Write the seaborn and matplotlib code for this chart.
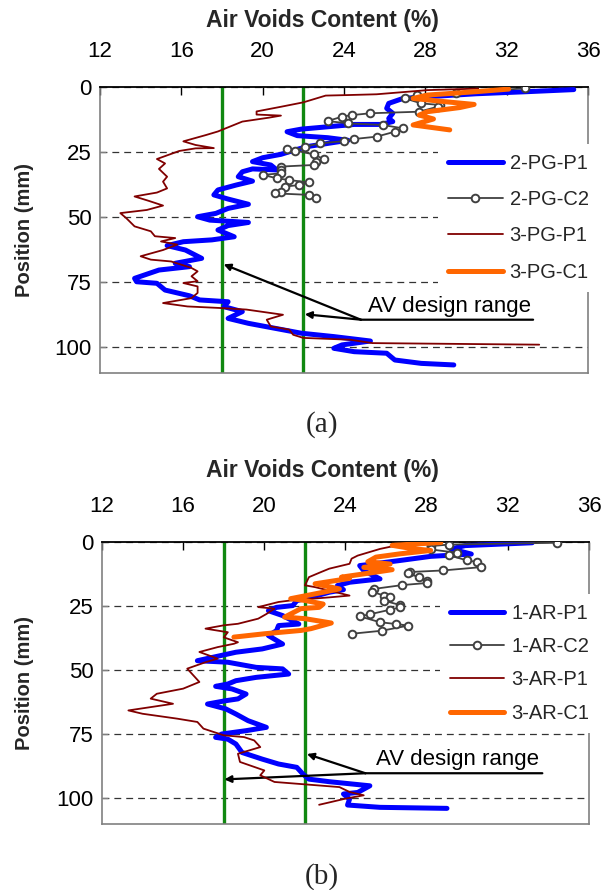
import matplotlib
matplotlib.use("Agg")
import matplotlib.pyplot as plt
import seaborn as sns
import pandas as pd

# ---------------- Panel (a) data ----------------
a_labels = ["2-PG-P1", "2-PG-C2", "3-PG-P1", "3-PG-C1"]

a_2pg_p1_av = [35.3, 33.0, 30.5, 28.2, 26.9, 26.2, 26.1, 26.4, 26.2, 26.4, 25.8, 24.5, 23.2, 21.9, 21.2,
               21.7, 23.2, 24.2, 23.2, 22.2, 21.6, 20.9, 20.0, 19.5, 20.4, 20.7, 19.5, 19.0, 18.8, 19.5,
               18.7, 17.8, 17.6, 18.3, 19.3, 18.3, 17.7, 16.8, 17.4, 19.3, 18.3, 17.8, 18.6, 17.5, 16.1,
               15.3, 16.2, 17.0, 15.7, 16.4, 14.9, 13.7, 13.8, 14.8, 15.2, 16.4, 16.9, 18.3, 18.1, 19.0,
               18.3, 19.3, 20.6, 21.9, 23.5, 25.3, 23.9, 23.5, 24.5, 26.1, 26.5, 27.8, 29.4]
a_2pg_p1_pos = [1.0, 1.8, 2.6, 3.7, 4.4, 6.3, 8.2, 10.1, 12.1, 13.3, 14.4, 14.4, 15.3, 16.2, 17.2,
                18.7, 19.5, 20.5, 21.7, 22.9, 24.2, 25.9, 27.2, 28.7, 30.0, 31.9, 31.5, 32.6, 34.5, 36.2,
                37.7, 39.6, 41.5, 43.1, 45.1, 46.7, 48.6, 49.9, 51.2, 52.1, 53.3, 55.0, 57.6, 58.8, 59.5,
                61.0, 62.7, 65.9, 67.8, 69.1, 70.4, 73.6, 74.9, 75.5, 78.1, 80.3, 81.9, 82.6, 84.5, 86.4,
                89.0, 90.9, 92.8, 94.7, 96.0, 97.7, 99.2, 100.5, 101.8, 102.4, 105.0, 106.3, 106.9]

a_2pg_c2_av = [32.9, 29.5, 27.6, 27.0, 27.8, 28.7, 28.6, 27.7, 25.3, 24.4, 23.9, 23.2, 24.2, 25.9, 26.9,
               26.5, 25.6, 24.5, 24.0, 22.8, 22.1, 21.6, 21.2, 22.5, 23.0, 22.6, 22.5, 20.9, 20.9, 20.9,
               20.0, 20.7, 21.3, 22.3, 21.8, 21.1, 20.9, 20.6, 22.3, 22.6]
a_2pg_c2_pos = [0.5, 2.4, 3.1, 4.4, 6.3, 6.9, 7.6, 9.5, 10.1, 10.8, 11.4, 13.1, 14.0, 14.6, 15.9,
                17.2, 19.1, 20.0, 20.8, 21.7, 22.9, 24.6, 23.8, 25.9, 27.7, 28.7, 30.0, 30.6, 31.9, 33.2,
                33.8, 35.1, 35.8, 36.7, 37.7, 38.3, 40.3, 40.9, 41.5, 42.8]

a_3pg_p1_av = [30.6, 28.1, 25.6, 24.2, 23.1, 22.0, 20.9, 19.7, 19.7, 20.9, 20.3, 19.0, 17.8, 17.2, 16.1,
               16.7, 17.6, 16.7, 15.9, 14.8, 15.2, 14.9, 15.3, 15.1, 15.3, 14.8, 13.7, 14.4, 15.1, 14.3,
               13.0, 13.3, 13.7, 14.5, 14.7, 15.7, 15.0, 15.8, 15.1, 14.0, 14.5, 15.5, 16.5, 16.8, 16.5,
               16.8, 16.1, 16.8, 16.8, 16.5, 15.1, 16.3, 17.9, 19.2, 21.0, 20.2, 20.4, 21.3, 21.5, 22.0,
               24.3, 25.4, 28.1, 33.6]
a_3pg_p1_pos = [0.6, 1.2, 2.8, 3.1, 3.3, 5.9, 7.6, 9.4, 10.6, 11.0, 11.8, 13.3, 17.1, 18.5, 20.9,
                22.3, 23.5, 23.6, 24.6, 27.7, 29.4, 31.5, 34.5, 36.4, 39.0, 40.6, 42.1, 43.8, 45.6, 47.3,
                48.5, 50.5, 53.6, 55.5, 57.4, 58.1, 59.4, 60.6, 62.7, 65.1, 66.4, 67.1, 69.6, 70.9, 72.8,
                74.7, 75.4, 76.7, 79.2, 81.2, 83.1, 84.4, 85.0, 85.6, 87.6, 89.5, 92.1, 93.3, 95.3, 96.5,
                97.2, 98.5, 98.7, 99.1]

a_3pg_c1_av = [32.1, 30.5, 28.1, 27.4, 28.9, 30.4, 29.7, 28.1, 27.7, 28.4, 27.4, 29.2]
a_3pg_c1_pos = [0.8, 1.8, 3.1, 4.4, 5.6, 6.7, 7.9, 9.5, 10.8, 12.3, 14.6, 16.5]

# ---------------- Panel (b) data ----------------
b_labels = ["1-AR-P1", "1-AR-C2", "3-AR-P1", "3-AR-C1"]

b_1ar_p1_av = [33.2, 29.9, 29.2, 30.2, 28.2, 26.6, 24.7, 24.9, 25.7, 24.2, 23.6, 23.9, 23.2, 22.6, 21.6,
               21.4, 20.6, 20.2, 20.9, 21.7, 20.7, 20.6, 20.2, 20.9, 19.9, 18.6, 16.7, 18.2, 19.6, 20.9,
               21.2, 19.6, 18.6, 18.2, 17.6, 18.4, 19.1, 18.7, 18.1, 17.2, 18.1, 18.6, 19.2, 20.1, 19.1,
               17.9, 17.6, 18.2, 18.6, 18.9, 19.9, 20.7, 21.6, 21.9, 22.2, 23.2, 25.2, 24.6, 23.9, 24.2,
               24.1, 25.7, 29.0]
b_1ar_p1_pos = [0.3, 1.4, 2.7, 4.7, 5.6, 7.3, 9.2, 11.2, 14.4, 15.7, 17.0, 18.6, 19.6, 20.9, 22.9,
                24.8, 25.5, 26.8, 28.7, 32.0, 32.6, 34.6, 36.5, 39.8, 41.7, 43.0, 46.3, 46.9, 48.9, 49.5,
                51.5, 52.8, 54.1, 55.4, 56.3, 57.3, 59.3, 61.2, 61.9, 63.2, 65.1, 67.1, 69.7, 72.3, 73.6,
                74.9, 76.2, 76.9, 78.8, 82.1, 84.7, 86.6, 87.9, 90.5, 92.5, 93.5, 95.1, 97.7, 98.3, 100.3,
                102.6, 103.5, 103.9]

b_1ar_c2_av = [34.4, 29.1, 28.2, 28.2, 29.5, 29.1, 30.0, 30.5, 30.7, 28.8, 27.2, 27.1, 27.6, 28.0, 28.0,
               26.8, 25.4, 25.3, 25.9, 26.2, 25.9, 26.7, 26.7, 26.2, 25.2, 24.7, 25.7, 26.5, 27.1, 25.8,
               24.3]
b_1ar_c2_pos = [0.3, 1.0, 1.6, 2.9, 4.2, 5.2, 7.2, 7.8, 9.8, 11.1, 11.7, 12.1, 13.8, 15.3, 16.0,
                16.8, 18.3, 19.4, 20.9, 21.6, 22.9, 24.6, 25.5, 26.4, 28.2, 29.0, 31.3, 32.0, 32.6, 34.6,
                35.8]

b_3ar_p1_av = [26.6, 25.7, 24.6, 24.3, 24.2, 23.2, 22.8, 22.2, 22.0, 22.5, 24.2, 23.2, 21.3, 20.7, 19.7,
               20.5, 20.1, 19.7, 18.7, 18.0, 17.1, 18.2, 18.0, 18.7, 18.5, 17.7, 16.8, 17.7, 17.1, 16.2,
               16.8, 16.0, 14.7, 14.4, 15.5, 13.3, 14.0, 15.7, 16.7, 17.0, 18.0, 19.0, 19.5, 19.8, 18.7,
               18.8, 20.0, 19.8, 20.5, 23.7, 24.2, 24.9, 24.0, 23.3, 22.7]
b_3ar_p1_pos = [1.2, 2.7, 5.3, 6.5, 8.5, 10.4, 11.7, 13.7, 16.9, 17.6, 20.9, 21.6, 22.8, 23.4, 25.4,
                26.0, 28.1, 29.9, 31.9, 32.5, 33.8, 35.2, 37.2, 39.1, 39.7, 41.0, 42.9, 45.5, 46.9, 49.4,
                54.6, 57.2, 59.2, 61.1, 63.1, 65.7, 67.0, 68.9, 70.2, 72.8, 75.4, 76.1, 77.4, 80.0, 82.6,
                85.8, 89.1, 91.0, 93.6, 95.6, 97.5, 98.8, 100.1, 101.4, 102.5]

b_3ar_c1_av = [28.7, 26.3, 27.3, 28.2, 26.7, 25.5, 25.1, 26.2, 24.9, 26.3, 25.2, 23.8, 24.2, 22.5, 23.7,
               22.9, 22.2, 21.3, 22.0, 22.9, 22.7, 21.8, 21.0, 22.0, 23.3, 22.3, 21.8, 20.0, 18.5]
b_3ar_c1_pos = [0.2, 1.3, 2.6, 3.3, 4.6, 5.9, 7.7, 8.6, 9.9, 10.8, 12.1, 13.7, 14.2, 16.3, 18.3,
                19.6, 20.7, 22.1, 22.8, 24.2, 25.5, 26.0, 29.3, 29.9, 31.6, 33.8, 34.5, 35.8, 37.1]

# Design range and axis ticks
design_range = [18, 22]
x_ticks = [12, 16, 20, 24, 28, 32, 36]
y_ticks = [0, 25, 50, 75, 100]
annot_text = "AV design range"

# ---------------- styling ----------------
sns.set_theme(style="white")
plt.rcParams["font.family"] = ["Liberation Sans", "DejaVu Sans"]

STY = [
    dict(color="#0000FF", linewidth=3.6),
    dict(color="#404040", linewidth=1.3, marker="o", markersize=5.5,
         markerfacecolor="white", markeredgecolor="#404040", markeredgewidth=1.4),
    dict(color="#800000", linewidth=1.3),
    dict(color="#FF6600", linewidth=3.6),
]

fig = plt.figure(figsize=(6.03, 8.90), dpi=100)
W, H = 603.0, 890.0


def make_panel(rect, labels, series, leg_anchor, labelspacing, ann, title_y, tag_y, tag):
    ax = fig.add_axes(rect)
    draw_order = [0, 2, 3, 1]
    for i in draw_order:
        av, pos = series[i]
        df = pd.DataFrame({"av": av, "pos": pos})
        sns.lineplot(data=df, x="av", y="pos", sort=False, estimator=None, ax=ax,
                     label=labels[i], zorder=3 + i * 0.1, **STY[i])
    for d in design_range:
        ax.axvline(d, color="#118811", linewidth=2.4, zorder=2.5)

    ax.set_xlim(12, 36)
    ax.set_ylim(110, 0)
    ax.set_xticks(x_ticks)
    ax.set_yticks(y_ticks)
    ax.xaxis.tick_top()
    ax.tick_params(axis="x", which="both", direction="in", length=6, width=1.0,
                   color="black", labelsize=16, pad=18, labelcolor="black",
                   top=True, bottom=False, labeltop=True, labelbottom=False)
    ax.tick_params(axis="y", direction="in", length=4, width=1.0, color="#808080",
                   labelsize=16, pad=6, labelcolor="black", left=True)
    ax.set_xlabel("")
    ax.set_ylabel("")
    ax.yaxis.grid(True, linestyle=(0, (5.5, 4)), color="#333333", linewidth=0.9)
    ax.xaxis.grid(False)
    ax.set_axisbelow(True)
    for s in ["left", "right", "bottom"]:
        ax.spines[s].set_color("#808080")
        ax.spines[s].set_linewidth(1.2)
    ax.spines["top"].set_color("black")
    ax.spines["top"].set_linewidth(1.3)

    handles, labs = ax.get_legend_handles_labels()
    order = [labs.index(l) for l in labels]
    leg = ax.legend([handles[k] for k in order], [labs[k] for k in order],
                    loc="upper left", bbox_to_anchor=leg_anchor, borderaxespad=0,
                    frameon=True, fancybox=False, facecolor="white", edgecolor="none",
                    framealpha=1, fontsize=14.5, handlelength=2.7, handletextpad=0.35,
                    labelspacing=labelspacing, borderpad=0.5)
    leg.set_zorder(10)

    (ox, oy), ex, tips, (tx, ty) = ann
    ax.annotate("", xy=(ex, oy), xytext=(ox, oy),
                arrowprops=dict(arrowstyle="-", color="black", lw=1.6, shrinkA=0, shrinkB=0))
    for tip in tips:
        ax.annotate("", xy=tip, xytext=(ox, oy),
                    arrowprops=dict(arrowstyle="-|>", color="black", lw=1.6,
                                    mutation_scale=10, shrinkA=0, shrinkB=0))
    ax.text(tx, ty, annot_text, ha="center", va="baseline", fontsize=16, color="black")

    fig.text(322 / W, 1 - title_y / H, "Air Voids Content (%)", ha="center", va="center",
             fontsize=16.5, fontweight="bold")
    cy = 1 - (rect[1] + rect[3] / 2)
    fig.text(25 / W, 1 - cy, "Position (mm)", rotation=90, ha="center", va="center",
             fontsize=14.5, fontweight="bold")
    fig.text(322 / W, 1 - tag_y / H, tag, ha="center", va="center", fontsize=21,
             family=["Liberation Serif", "DejaVu Serif"])
    return ax


series_a = [(a_2pg_p1_av, a_2pg_p1_pos), (a_2pg_c2_av, a_2pg_c2_pos),
            (a_3pg_p1_av, a_3pg_p1_pos), (a_3pg_c1_av, a_3pg_c1_pos)]
series_b = [(b_1ar_p1_av, b_1ar_p1_pos), (b_1ar_c2_av, b_1ar_c2_pos),
            (b_3ar_p1_av, b_3ar_p1_pos), (b_3ar_c1_av, b_3ar_c1_pos)]

rect_a = [100 / W, 1 - 373 / H, 488 / W, 286 / H]
rect_b = [102 / W, 1 - 824 / H, 487 / W, 282 / H]

ann_a = ((24.83, 89.5), 33.3, [(18.08, 68.2), (22.07, 87.4)], (29.2, 86.4))
ann_b = ((24.98, 90.2), 33.7, [(22.1, 82.7), (18.03, 92.6)], (29.5, 87.0))

make_panel(rect_a, a_labels, series_a, (0.693, 0.802), 0.86, ann_a, 21, 425, "(a)")
make_panel(rect_b, b_labels, series_b, (0.694, 0.817), 0.71, ann_b, 471, 877, "(b)")

fig.savefig("out.png", dpi=100)
